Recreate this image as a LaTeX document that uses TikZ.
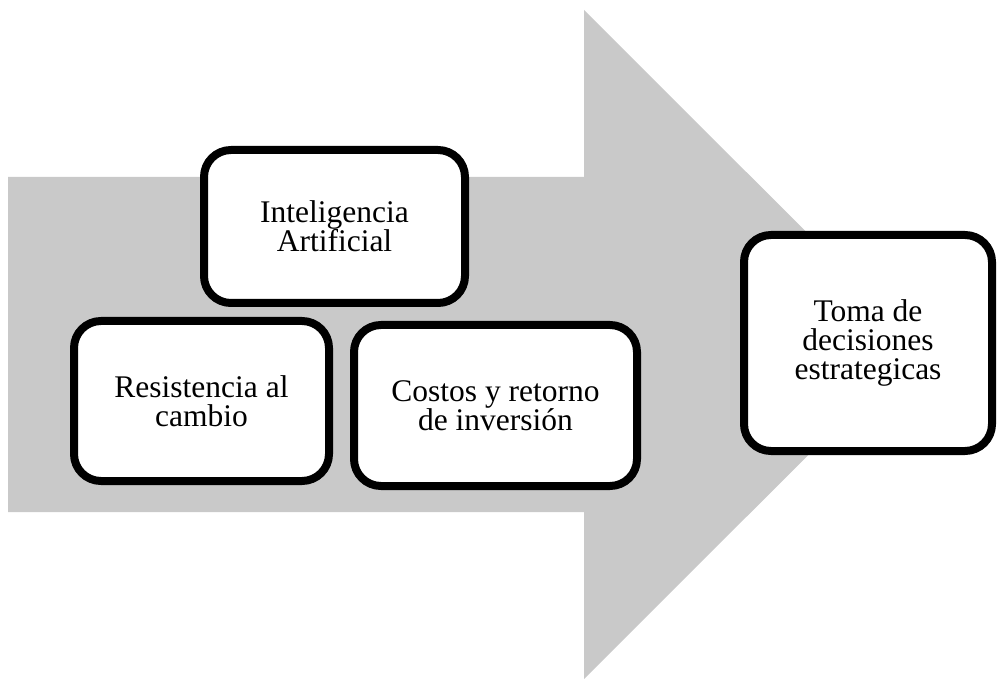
\documentclass[tikz,border=0pt]{standalone}
\usepackage{fontspec}
\setmainfont{Liberation Serif}
\usetikzlibrary{shadows}
\definecolor{arrowgray}{RGB}{201,201,201}
\tikzset{
  box/.style={draw=black, fill=white, line width=8pt, rounded corners=27pt,
    inner sep=0pt, align=center,
    font=\fontsize{31.5}{29}\selectfont,
    drop shadow={shadow xshift=2pt, shadow yshift=-3pt, opacity=0.35, fill=black}},
}
\begin{document}
\begin{tikzpicture}[x=1pt,y=-1pt]
\useasboundingbox (0,0) rectangle (997,679);
% big arrow
\fill[arrowgray] (8,177) -- (584,177) -- (584,10) -- (919,344.5) -- (584,679) -- (584,512) -- (8,512) -- cycle;
% boxes
\node[box, minimum width=261pt, minimum height=153pt] (ia) at (334.5,226.5) {Inteligencia\\Artificial};
\node[box, minimum width=255pt, minimum height=160pt] (res) at (201.5,401) {Resistencia al\\cambio};
\node[box, minimum width=283pt, minimum height=161pt] (cos) at (495.5,405.5) {Costos y retorno\\de inversión};
\node[box, minimum width=248pt, minimum height=216pt] (toma) at (868,343) {Toma de\\decisiones\\estrategicas};
\end{tikzpicture}
\end{document}
